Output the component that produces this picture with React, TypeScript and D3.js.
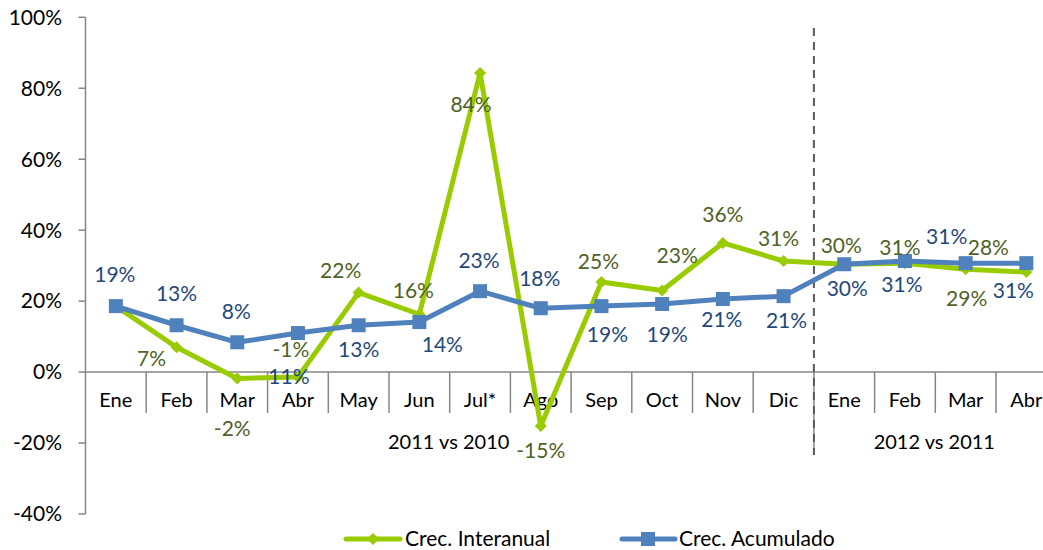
import React from "react";
import * as d3 from "d3";

// month categories (two groups: 2011 vs 2010, 2012 vs 2011)
const months = ["Ene", "Feb", "Mar", "Abr", "May", "Jun", "Jul*", "Ago", "Sep", "Oct", "Nov", "Dic", "Ene", "Feb", "Mar", "Abr"];
const groups = [
  { label: "2011 vs 2010", start: 0, end: 12 },
  { label: "2012 vs 2011", start: 12, end: 16 },
];
const interanual = [0.186, 0.07, -0.018, -0.014, 0.224, 0.163, 0.843, -0.152, 0.254, 0.23, 0.364, 0.313, 0.304, 0.307, 0.29, 0.282];
const acumulado = [0.186, 0.132, 0.084, 0.11, 0.132, 0.141, 0.228, 0.18, 0.186, 0.192, 0.206, 0.214, 0.304, 0.313, 0.307, 0.307];
const yTicks = [-0.4, -0.2, 0, 0.2, 0.4, 0.6, 0.8, 1.0];

// hand placed data label offsets (dx, dy) like in the original sheet
const interanualLabelOffsets: ([number, number] | null)[] = [
  null, [-25, 11], [-5, 50], [-7, -27], [-18, -22], [-6, -24], [-9, 32], [0, 25],
  [-3, -20], [15, -35], [0, -28], [-5, -22], [-3, -19], [-5, -16], [1, 29], [-38, -24],
];
const acumuladoLabelOffsets: [number, number][] = [
  [-1, -31], [0, -32], [-1, -31], [-9, 44], [0, 24], [23, 23], [-1, -31], [-1, -30],
  [6, 29], [5, 31], [-1, 21], [3, 24], [3, 24], [-3, 24], [-19, -27], [-13, 27],
];

const GREEN = "#99CC00";
const BLUE = "#4F81BD";
const GREEN_TXT = "#4F6228";
const BLUE_TXT = "#1F497D";
const AXIS = "#868686";
const FONT = "Lato, 'Open Sans', sans-serif";

const W = 1043, H = 550;
const plotLeft = 85.5;
const band = 60.7;

export default function App() {
  const x = d3.scaleBand<number>()
    .domain(months.map((_, i) => i))
    .range([plotLeft, plotLeft + band * months.length])
    .padding(0);
  const y = d3.scaleLinear().domain([-0.4, 1.0]).range([514, 17.3]);
  const cx = (i: number) => (x(i) as number) + x.bandwidth() / 2;
  const pct = d3.format(".0%");
  const fmt = (v: number) => pct(v).replace("\u2212", "-");

  const line = d3.line<number>().x((_, i) => cx(i)).y(d => y(d));
  const y0 = y(0);

  const diamond = (px: number, py: number, r: number) =>
    `M${px},${py - r}L${px + r},${py}L${px},${py + r}L${px - r},${py}Z`;

  const divX = x(12) as number;

  return (
    <svg width={W} height={H} style={{ position: "absolute", left: 0, top: 0, background: "#fff" }} fontFamily={FONT}>
      {/* y axis */}
      <line x1={plotLeft} x2={plotLeft} y1={y(1)} y2={y(-0.4)} stroke={AXIS} strokeWidth={1.5} />
      {yTicks.map(t => (
        <g key={t}>
          <line x1={plotLeft - 7} x2={plotLeft} y1={y(t)} y2={y(t)} stroke={AXIS} strokeWidth={1.5} />
          <text x={62} y={y(t)} dy="0.35em" textAnchor="end" fontSize={21} fill="#000">{fmt(t)}</text>
        </g>
      ))}

      {/* category axis at 0% */}
      <line x1={plotLeft} x2={plotLeft + band * months.length} y1={y0} y2={y0} stroke={AXIS} strokeWidth={1.5} />
      {months.map((m, i) => (
        <g key={i}>
          {i > 0 && (
            <line x1={x(i) as number} x2={x(i) as number} y1={y0} y2={groups.some(g => g.start === i) ? 455 : 413}
              stroke={AXIS} strokeWidth={1.5} />
          )}
          <text x={cx(i)} y={400} dy="0.35em" textAnchor="middle" fontSize={20} fill="#000">{m}</text>
        </g>
      ))}
      {groups.map(g => (
        <text key={g.label} x={((x(g.start) as number) + (x(g.end - 1) as number) + x.bandwidth()) / 2 - 1}
          y={442} dy="0.35em" textAnchor="middle" fontSize={20} fill="#000">{g.label}</text>
      ))}

      {/* year separator */}
      <line x1={divX} x2={divX} y1={28} y2={455} stroke="#595959" strokeWidth={2} strokeDasharray="8,6" />

      {/* series */}
      <path d={line(interanual) || ""} fill="none" stroke={GREEN} strokeWidth={5} strokeLinejoin="round" />
      {interanual.map((v, i) => (
        <path key={i} d={diamond(cx(i), y(v), 6)} fill={GREEN} />
      ))}
      <path d={line(acumulado) || ""} fill="none" stroke={BLUE} strokeWidth={5} strokeLinejoin="round" />
      {acumulado.map((v, i) => (
        <rect key={i} x={cx(i) - 7} y={y(v) - 7} width={14} height={14} fill={BLUE} />
      ))}

      {/* data labels */}
      {interanual.map((v, i) => {
        const o = interanualLabelOffsets[i];
        if (!o) return null;
        return (
          <text key={i} x={cx(i) + o[0]} y={y(v) + o[1]} dy="0.35em" textAnchor="middle" fontSize={21} fill={GREEN_TXT}>{fmt(v)}</text>
        );
      })}
      {acumulado.map((v, i) => {
        const o = acumuladoLabelOffsets[i];
        return (
          <text key={i} x={cx(i) + o[0]} y={y(v) + o[1]} dy="0.35em" textAnchor="middle" fontSize={21} fill={BLUE_TXT}>{fmt(v)}</text>
        );
      })}

      {/* legend */}
      <g>
        <line x1={346} x2={400} y1={539} y2={539} stroke={GREEN} strokeWidth={5} strokeLinecap="round" />
        <path d={diamond(373, 539, 6)} fill={GREEN} />
        <text x={405} y={539} dy="0.35em" fontSize={21} fill="#000">Crec. Interanual</text>
        <line x1={622} x2={675} y1={539} y2={539} stroke={BLUE} strokeWidth={5} strokeLinecap="round" />
        <rect x={641} y={532} width={14} height={14} fill={BLUE} />
        <text x={679} y={539} dy="0.35em" fontSize={21} fill="#000">Crec. Acumulado</text>
      </g>
    </svg>
  );
}
